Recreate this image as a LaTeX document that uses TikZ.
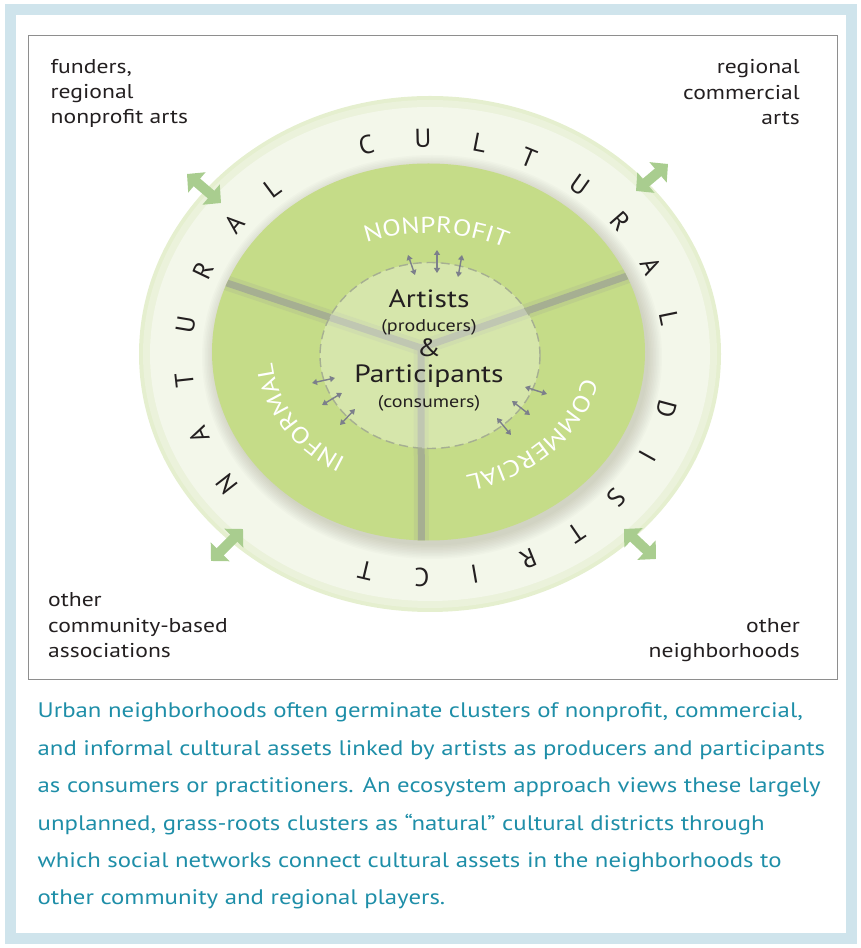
\documentclass[tikz,border=0pt]{standalone}
\usepackage{fontspec}
\setmainfont{PT Sans}
\newfontfamily\widefont[FakeStretch=1.18]{PT Sans}
\usetikzlibrary{arrows.meta,decorations.text}

\definecolor{frameblue}{HTML}{CFE4EC}
\definecolor{boxgrey}{HTML}{8E8E8E}
\definecolor{ringouter}{HTML}{E5EFCF}
\definecolor{ringmid}{HTML}{EBF2DB}
\definecolor{ringlight}{HTML}{F3F7EA}
\definecolor{sectorgreen}{HTML}{C5DC88}
\definecolor{gapgrey}{HTML}{A6AF92}
\definecolor{arrowgreen}{HTML}{A9CD8F}
\definecolor{arrowgrey}{HTML}{7C7F8B}
\definecolor{captionteal}{HTML}{1E8EA8}
\definecolor{inktext}{HTML}{231F20}

\newcommand\sectorfont{\widefont\fontsize{23}{23}\selectfont}

\begin{document}
\begin{tikzpicture}[x=1pt,y=1pt,
  corner/.style={text=inktext,font=\widefont\fontsize{20}{25}\selectfont,inner sep=0pt},
  caption/.style={text=captionteal,font=\widefont\fontsize{21}{21}\selectfont,inner sep=0pt,anchor=base west},
  ringletter/.style={text=inktext,font=\fontsize{26}{26}\selectfont,inner sep=0pt},
  centertext/.style={text=inktext,inner sep=0pt,anchor=base},
  bigarrow/.style={arrowgreen,line width=10pt,{Triangle[length=13pt,width=26pt]}-{Triangle[length=13pt,width=26pt]}},
  smallarrow/.style={arrowgrey,line width=1.4pt,{Triangle[length=5pt,width=6pt]}-{Triangle[length=5pt,width=6pt]}},
  sectorlabel/.style={decorate,decoration={text along path,text align=center,text color=white,
    text={|\sectorfont|#1}}}
]
\useasboundingbox (0,0) rectangle (860,948);

\draw [frameblue,line width=11pt] (10.5,9.5) rectangle (851.5,938.5);
\draw [boxgrey,line width=1pt] (28,268) rectangle (837,912);

\fill [ringouter] (430,594) ellipse [x radius=291pt,y radius=258pt];
\fill [ringmid] (430,594) ellipse [x radius=287pt,y radius=254pt];
\fill [ringlight] (430,594) ellipse [x radius=280pt,y radius=247pt];

\foreach \i in {1,...,10}
  \fill [black!60!olive,opacity=0.02] (432,591) ellipse [x radius={215pt+1.5pt*\i},y radius={187pt+1.5pt*\i}];

\fill [sectorgreen] (428.5,596) ellipse [x radius=216.5pt,y radius=188.5pt];
\begin{scope}
\clip (428.5,596) ellipse [x radius=216.5pt,y radius=188.5pt];
\draw [gapgrey,line width=15pt,opacity=0.25] (200,674) -- (421,600) -- (650,680);
\draw [gapgrey,line width=15pt,opacity=0.25] (421,600) -- (421.5,380);
\draw [gapgrey,line width=7pt] (200,674) -- (421,600) -- (650,680);
\draw [gapgrey,line width=7pt] (421,603) -- (421.5,380);
\end{scope}

\fill [white,opacity=0.3] (430,592.5) ellipse [x radius=110pt,y radius=93pt];
\draw [gapgrey,line width=1.4pt,dash pattern=on 9pt off 5pt] (430,592.5) ellipse [x radius=110pt,y radius=93pt];

\foreach \ch/\t [count=\k] in {N/215,A/200.6,T/185.7,U/171.4,R/156.7,A/142.3,L/129.5,
    C/104.6,U/91.2,L/77.8,T/65.7,U/51.8,R/38.3,A/24.6,L/10.5,
    D/-13.4,I/-26.5,S/-39.6,T/-52.8,R/-65.9,I/-79,C/-91.4,T/-104.8}
  \node [ringletter,rotate={atan2(245*sin(\t),220*cos(\t))-90}] (ring\k)
    at ({428+245*cos(\t)},{590+220*sin(\t)}) {\ch};

\path [sectorlabel=NONPROFIT] ({429+156*cos(130)},{596+119*sin(130)})
  arc [start angle=130,end angle=44,x radius=156pt,y radius=119pt];
\path [sectorlabel=INFORMAL] ({428+156*cos(254)},{596+125*sin(254)})
  arc [start angle=254,end angle=166,x radius=156pt,y radius=125pt];
\path [sectorlabel=COMMERCIAL] ({428+158*cos(8)},{596+127*sin(8)})
  arc [start angle=8,end angle=-92,x radius=158pt,y radius=127pt];

\node [centertext,font=\widefont\fontsize{25}{25}\selectfont] (artists) at (429,640) {Artists};
\node [centertext,font=\widefont\fontsize{17}{17}\selectfont] (producers) at (429,616) {(producers)};
\node [centertext,font=\widefont\fontsize{25}{25}\selectfont] (amp) at (429,591) {\&};
\node [centertext,font=\widefont\fontsize{25}{25}\selectfont] (participants) at (429,565) {Participants};
\node [centertext,font=\widefont\fontsize{17}{17}\selectfont] (consumers) at (429,540) {(consumers)};

\draw [smallarrow] (408,693) -- (415,673);
\draw [smallarrow] (437,698) -- (437,675);
\draw [smallarrow] (462,693) -- (458,671);
\draw [smallarrow] (312,565) -- (335,570);
\draw [smallarrow] (322,543) -- (342,555);
\draw [smallarrow] (340,523) -- (355,539);
\draw [smallarrow] (525,561) -- (547,554);
\draw [smallarrow] (512,547) -- (530,533);
\draw [smallarrow] (497,530) -- (511,513);

\draw [bigarrow] (187,774) -- (221,745);
\draw [bigarrow] (636,757) -- (668,784);
\draw [bigarrow] (211,387) -- (243,419);
\draw [bigarrow] (624,419) -- (656,389);

\node [corner,anchor=base west] (fund1) at (50.5,874) {funders,};
\node [corner,anchor=base west] (fund2) at (50.5,849) {regional};
\node [corner,anchor=base west] (fund3) at (50.5,824) {nonprofit arts};
\node [corner,anchor=base east] (comm1) at (800,874) {regional};
\node [corner,anchor=base east] (comm2) at (800,848) {commercial};
\node [corner,anchor=base east] (comm3) at (800,823) {arts};
\node [corner,anchor=base west] (assoc1) at (48,341) {other};
\node [corner,anchor=base west] (assoc2) at (48,315) {community-based};
\node [corner,anchor=base west] (assoc3) at (48,290) {associations};
\node [corner,anchor=base east] (nbhd1) at (800,315) {other};
\node [corner,anchor=base east] (nbhd2) at (800,290) {neighborhoods};

\node [caption] (cap1) at (37.5,230) {Urban neighborhoods often germinate clusters of nonprofit, commercial,};
\node [caption] (cap2) at (37.5,192.6) {and informal cultural assets linked by artists as producers and participants};
\node [caption] (cap3) at (37.5,155.2) {as consumers or practitioners. An ecosystem approach views these largely};
\node [caption] (cap4) at (37.5,117.8) {unplanned, grass-roots clusters as “natural” cultural districts through};
\node [caption] (cap5) at (37.5,80.4) {which social networks connect cultural assets in the neighborhoods to};
\node [caption] (cap6) at (37.5,43) {other community and regional players.};
\end{tikzpicture}
\end{document}
